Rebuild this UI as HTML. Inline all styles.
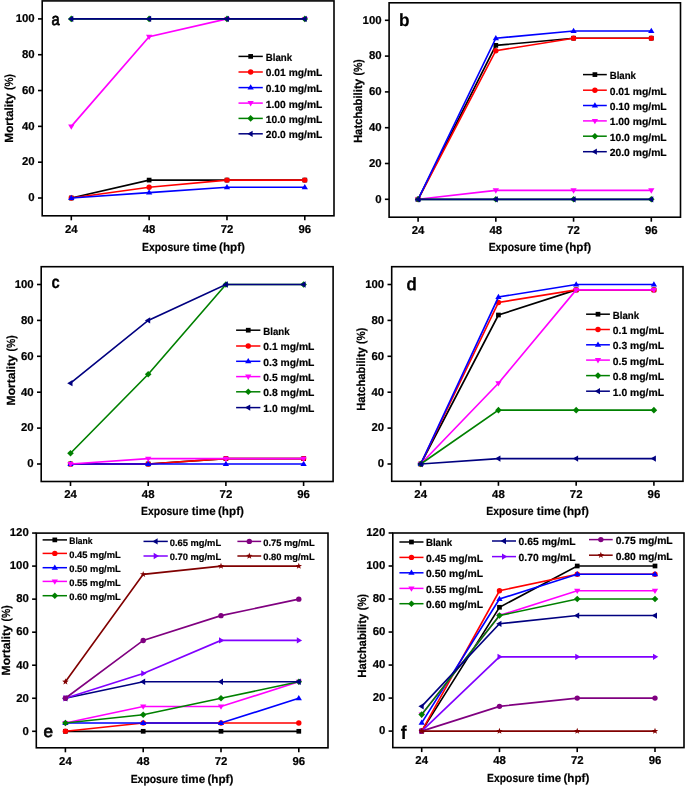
<!DOCTYPE html>
<html><head><meta charset="utf-8"><style>
html,body{margin:0;padding:0;background:#fff;}
svg{display:block;will-change:transform;}
text{font-family:"Liberation Sans", sans-serif;fill:#000;text-rendering:geometricPrecision;stroke:#000;stroke-width:0.2px;}
.rg{stroke-width:0.75px;}
</style></head><body>
<svg width="685" height="786" viewBox="0 0 685 786">
<rect width="685" height="786" fill="#fff"/>
<polyline points="71.30,198.00 149.13,180.09 226.97,180.09 304.80,180.09" fill="none" stroke="#000000" stroke-width="1.65" stroke-linejoin="miter"/>
<rect x="68.95" y="195.65" width="4.70" height="4.70" fill="#000000"/>
<rect x="146.78" y="177.74" width="4.70" height="4.70" fill="#000000"/>
<rect x="224.62" y="177.74" width="4.70" height="4.70" fill="#000000"/>
<rect x="302.45" y="177.74" width="4.70" height="4.70" fill="#000000"/>
<polyline points="71.30,198.00 149.13,187.25 226.97,180.09 304.80,180.09" fill="none" stroke="#ff0000" stroke-width="1.65" stroke-linejoin="miter"/>
<circle cx="71.30" cy="198.00" r="2.70" fill="#ff0000"/>
<circle cx="149.13" cy="187.25" r="2.70" fill="#ff0000"/>
<circle cx="226.97" cy="180.09" r="2.70" fill="#ff0000"/>
<circle cx="304.80" cy="180.09" r="2.70" fill="#ff0000"/>
<polyline points="71.30,198.00 149.13,192.63 226.97,187.25 304.80,187.25" fill="none" stroke="#0000ff" stroke-width="1.65" stroke-linejoin="miter"/>
<polygon points="71.30,194.70 74.44,199.98 68.16,199.98" fill="#0000ff"/>
<polygon points="149.13,189.33 152.27,194.61 146.00,194.61" fill="#0000ff"/>
<polygon points="226.97,183.95 230.10,189.23 223.83,189.23" fill="#0000ff"/>
<polygon points="304.80,183.95 307.94,189.23 301.67,189.23" fill="#0000ff"/>
<polyline points="71.30,126.36 149.13,36.81 226.97,18.90 304.80,18.90" fill="none" stroke="#ff00ff" stroke-width="1.65" stroke-linejoin="miter"/>
<polygon points="71.30,129.66 74.44,124.38 68.16,124.38" fill="#ff00ff"/>
<polygon points="149.13,40.11 152.27,34.83 146.00,34.83" fill="#ff00ff"/>
<polygon points="226.97,22.20 230.10,16.92 223.83,16.92" fill="#ff00ff"/>
<polygon points="304.80,22.20 307.94,16.92 301.67,16.92" fill="#ff00ff"/>
<polyline points="71.30,18.90 149.13,18.90 226.97,18.90 304.80,18.90" fill="none" stroke="#008000" stroke-width="1.65" stroke-linejoin="miter"/>
<polygon points="71.30,15.60 74.60,18.90 71.30,22.20 68.00,18.90" fill="#008000"/>
<polygon points="149.13,15.60 152.43,18.90 149.13,22.20 145.83,18.90" fill="#008000"/>
<polygon points="226.97,15.60 230.27,18.90 226.97,22.20 223.67,18.90" fill="#008000"/>
<polygon points="304.80,15.60 308.10,18.90 304.80,22.20 301.50,18.90" fill="#008000"/>
<polyline points="71.30,18.90 149.13,18.90 226.97,18.90 304.80,18.90" fill="none" stroke="#000080" stroke-width="1.65" stroke-linejoin="miter"/>
<polygon points="68.00,18.90 73.28,15.77 73.28,22.04" fill="#000080"/>
<polygon points="145.83,18.90 151.11,15.77 151.11,22.04" fill="#000080"/>
<polygon points="223.67,18.90 228.95,15.77 228.95,22.04" fill="#000080"/>
<polygon points="301.50,18.90 306.78,15.77 306.78,22.04" fill="#000080"/>
<rect x="42.20" y="0.90" width="291.80" height="214.90" fill="none" stroke="#000" stroke-width="1.6"/>
<line x1="71.30" y1="215.80" x2="71.30" y2="220.30" stroke="#000" stroke-width="1.6"/>
<text x="71.30" y="232.60" font-size="11.4" font-weight="bold" text-anchor="middle">24</text>
<line x1="149.13" y1="215.80" x2="149.13" y2="220.30" stroke="#000" stroke-width="1.6"/>
<text x="149.13" y="232.60" font-size="11.4" font-weight="bold" text-anchor="middle">48</text>
<line x1="226.97" y1="215.80" x2="226.97" y2="220.30" stroke="#000" stroke-width="1.6"/>
<text x="226.97" y="232.60" font-size="11.4" font-weight="bold" text-anchor="middle">72</text>
<line x1="304.80" y1="215.80" x2="304.80" y2="220.30" stroke="#000" stroke-width="1.6"/>
<text x="304.80" y="232.60" font-size="11.4" font-weight="bold" text-anchor="middle">96</text>
<line x1="38.00" y1="198.00" x2="42.20" y2="198.00" stroke="#000" stroke-width="1.6"/>
<text x="34.70" y="201.30" font-size="11.4" font-weight="bold" text-anchor="end">0</text>
<line x1="38.00" y1="162.18" x2="42.20" y2="162.18" stroke="#000" stroke-width="1.6"/>
<text x="34.70" y="165.48" font-size="11.4" font-weight="bold" text-anchor="end">20</text>
<line x1="38.00" y1="126.36" x2="42.20" y2="126.36" stroke="#000" stroke-width="1.6"/>
<text x="34.70" y="129.66" font-size="11.4" font-weight="bold" text-anchor="end">40</text>
<line x1="38.00" y1="90.54" x2="42.20" y2="90.54" stroke="#000" stroke-width="1.6"/>
<text x="34.70" y="93.84" font-size="11.4" font-weight="bold" text-anchor="end">60</text>
<line x1="38.00" y1="54.72" x2="42.20" y2="54.72" stroke="#000" stroke-width="1.6"/>
<text x="34.70" y="58.02" font-size="11.4" font-weight="bold" text-anchor="end">80</text>
<line x1="38.00" y1="18.90" x2="42.20" y2="18.90" stroke="#000" stroke-width="1.6"/>
<text x="34.70" y="22.20" font-size="11.4" font-weight="bold" text-anchor="end">100</text>
<text x="141.95" y="250.60" font-size="11.8" font-weight="bold" textLength="47.53" lengthAdjust="spacingAndGlyphs">Exposure</text>
<text x="192.71" y="250.60" font-size="11.8" font-weight="bold" textLength="23.98" lengthAdjust="spacingAndGlyphs">time</text>
<text x="219.02" y="250.60" font-size="11.8" font-weight="bold" textLength="26.01" lengthAdjust="spacingAndGlyphs">(hpf)</text>
<text transform="translate(13.40,141.90) rotate(-90)" x="-0.79" y="0" font-size="11.8" font-weight="bold" textLength="49.19" lengthAdjust="spacingAndGlyphs">Mortality</text>
<text transform="translate(13.40,141.90) rotate(-90)" x="51.95" y="0" font-size="11.8" font-weight="bold" textLength="15.87" lengthAdjust="spacingAndGlyphs">(%)</text>
<text class="rg" transform="translate(51.60,25.10) scale(0.86,1)" font-size="17.0" font-weight="normal">a</text>
<line x1="238.50" y1="56.40" x2="262.80" y2="56.40" stroke="#000000" stroke-width="1.5"/>
<rect x="248.30" y="54.05" width="4.70" height="4.70" fill="#000000"/>
<text x="265.80" y="60.80" font-size="10.3" font-weight="bold" textLength="26.30" lengthAdjust="spacingAndGlyphs">Blank</text>
<line x1="238.50" y1="72.00" x2="262.80" y2="72.00" stroke="#ff0000" stroke-width="1.5"/>
<circle cx="250.65" cy="72.00" r="2.70" fill="#ff0000"/>
<text x="265.80" y="76.40" font-size="10.3" font-weight="bold" textLength="56.50" lengthAdjust="spacingAndGlyphs">0.01 mg/mL</text>
<line x1="238.50" y1="87.60" x2="262.80" y2="87.60" stroke="#0000ff" stroke-width="1.5"/>
<polygon points="250.65,84.30 253.78,89.58 247.52,89.58" fill="#0000ff"/>
<text x="265.80" y="92.00" font-size="10.3" font-weight="bold" textLength="56.50" lengthAdjust="spacingAndGlyphs">0.10 mg/mL</text>
<line x1="238.50" y1="103.10" x2="262.80" y2="103.10" stroke="#ff00ff" stroke-width="1.5"/>
<polygon points="250.65,106.40 253.78,101.12 247.52,101.12" fill="#ff00ff"/>
<text x="265.80" y="107.50" font-size="10.3" font-weight="bold" textLength="56.50" lengthAdjust="spacingAndGlyphs">1.00 mg/mL</text>
<line x1="238.50" y1="118.40" x2="262.80" y2="118.40" stroke="#008000" stroke-width="1.5"/>
<polygon points="250.65,115.10 253.95,118.40 250.65,121.70 247.35,118.40" fill="#008000"/>
<text x="265.80" y="122.80" font-size="10.3" font-weight="bold" textLength="56.50" lengthAdjust="spacingAndGlyphs">10.0 mg/mL</text>
<line x1="238.50" y1="133.80" x2="262.80" y2="133.80" stroke="#000080" stroke-width="1.5"/>
<polygon points="247.35,133.80 252.63,130.67 252.63,136.94" fill="#000080"/>
<text x="265.80" y="138.20" font-size="10.3" font-weight="bold" textLength="56.50" lengthAdjust="spacingAndGlyphs">20.0 mg/mL</text>
<polyline points="418.10,199.30 495.83,45.36 573.57,38.20 651.30,38.20" fill="none" stroke="#000000" stroke-width="1.65" stroke-linejoin="miter"/>
<rect x="415.75" y="196.95" width="4.70" height="4.70" fill="#000000"/>
<rect x="493.48" y="43.01" width="4.70" height="4.70" fill="#000000"/>
<rect x="571.22" y="35.85" width="4.70" height="4.70" fill="#000000"/>
<rect x="648.95" y="35.85" width="4.70" height="4.70" fill="#000000"/>
<polyline points="418.10,199.30 495.83,50.73 573.57,38.20 651.30,38.20" fill="none" stroke="#ff0000" stroke-width="1.65" stroke-linejoin="miter"/>
<circle cx="418.10" cy="199.30" r="2.70" fill="#ff0000"/>
<circle cx="495.83" cy="50.73" r="2.70" fill="#ff0000"/>
<circle cx="573.57" cy="38.20" r="2.70" fill="#ff0000"/>
<circle cx="651.30" cy="38.20" r="2.70" fill="#ff0000"/>
<polyline points="418.10,199.30 495.83,38.20 573.57,31.04 651.30,31.04" fill="none" stroke="#0000ff" stroke-width="1.65" stroke-linejoin="miter"/>
<polygon points="418.10,196.00 421.24,201.28 414.97,201.28" fill="#0000ff"/>
<polygon points="495.83,34.90 498.97,40.18 492.70,40.18" fill="#0000ff"/>
<polygon points="573.57,27.74 576.70,33.02 570.43,33.02" fill="#0000ff"/>
<polygon points="651.30,27.74 654.43,33.02 648.16,33.02" fill="#0000ff"/>
<polyline points="418.10,199.30 495.83,190.35 573.57,190.35 651.30,190.35" fill="none" stroke="#ff00ff" stroke-width="1.65" stroke-linejoin="miter"/>
<polygon points="418.10,202.60 421.24,197.32 414.97,197.32" fill="#ff00ff"/>
<polygon points="495.83,193.65 498.97,188.37 492.70,188.37" fill="#ff00ff"/>
<polygon points="573.57,193.65 576.70,188.37 570.43,188.37" fill="#ff00ff"/>
<polygon points="651.30,193.65 654.43,188.37 648.16,188.37" fill="#ff00ff"/>
<polyline points="418.10,199.30 495.83,199.30 573.57,199.30 651.30,199.30" fill="none" stroke="#008000" stroke-width="1.65" stroke-linejoin="miter"/>
<polygon points="418.10,196.00 421.40,199.30 418.10,202.60 414.80,199.30" fill="#008000"/>
<polygon points="495.83,196.00 499.13,199.30 495.83,202.60 492.53,199.30" fill="#008000"/>
<polygon points="573.57,196.00 576.87,199.30 573.57,202.60 570.27,199.30" fill="#008000"/>
<polygon points="651.30,196.00 654.60,199.30 651.30,202.60 648.00,199.30" fill="#008000"/>
<polyline points="418.10,199.30 495.83,199.30 573.57,199.30 651.30,199.30" fill="none" stroke="#000080" stroke-width="1.65" stroke-linejoin="miter"/>
<polygon points="414.80,199.30 420.08,196.17 420.08,202.44" fill="#000080"/>
<polygon points="492.53,199.30 497.81,196.17 497.81,202.44" fill="#000080"/>
<polygon points="570.27,199.30 575.55,196.17 575.55,202.44" fill="#000080"/>
<polygon points="648.00,199.30 653.28,196.17 653.28,202.44" fill="#000080"/>
<rect x="389.10" y="2.80" width="291.40" height="214.40" fill="none" stroke="#000" stroke-width="1.6"/>
<line x1="418.10" y1="217.20" x2="418.10" y2="221.70" stroke="#000" stroke-width="1.6"/>
<text x="418.10" y="234.00" font-size="11.4" font-weight="bold" text-anchor="middle">24</text>
<line x1="495.83" y1="217.20" x2="495.83" y2="221.70" stroke="#000" stroke-width="1.6"/>
<text x="495.83" y="234.00" font-size="11.4" font-weight="bold" text-anchor="middle">48</text>
<line x1="573.57" y1="217.20" x2="573.57" y2="221.70" stroke="#000" stroke-width="1.6"/>
<text x="573.57" y="234.00" font-size="11.4" font-weight="bold" text-anchor="middle">72</text>
<line x1="651.30" y1="217.20" x2="651.30" y2="221.70" stroke="#000" stroke-width="1.6"/>
<text x="651.30" y="234.00" font-size="11.4" font-weight="bold" text-anchor="middle">96</text>
<line x1="384.90" y1="199.30" x2="389.10" y2="199.30" stroke="#000" stroke-width="1.6"/>
<text x="381.60" y="202.60" font-size="11.4" font-weight="bold" text-anchor="end">0</text>
<line x1="384.90" y1="163.50" x2="389.10" y2="163.50" stroke="#000" stroke-width="1.6"/>
<text x="381.60" y="166.80" font-size="11.4" font-weight="bold" text-anchor="end">20</text>
<line x1="384.90" y1="127.70" x2="389.10" y2="127.70" stroke="#000" stroke-width="1.6"/>
<text x="381.60" y="131.00" font-size="11.4" font-weight="bold" text-anchor="end">40</text>
<line x1="384.90" y1="91.90" x2="389.10" y2="91.90" stroke="#000" stroke-width="1.6"/>
<text x="381.60" y="95.20" font-size="11.4" font-weight="bold" text-anchor="end">60</text>
<line x1="384.90" y1="56.10" x2="389.10" y2="56.10" stroke="#000" stroke-width="1.6"/>
<text x="381.60" y="59.40" font-size="11.4" font-weight="bold" text-anchor="end">80</text>
<line x1="384.90" y1="20.30" x2="389.10" y2="20.30" stroke="#000" stroke-width="1.6"/>
<text x="381.60" y="23.60" font-size="11.4" font-weight="bold" text-anchor="end">100</text>
<text x="488.65" y="250.50" font-size="11.8" font-weight="bold" textLength="47.30" lengthAdjust="spacingAndGlyphs">Exposure</text>
<text x="539.16" y="250.50" font-size="11.8" font-weight="bold" textLength="23.86" lengthAdjust="spacingAndGlyphs">time</text>
<text x="565.34" y="250.50" font-size="11.8" font-weight="bold" textLength="25.89" lengthAdjust="spacingAndGlyphs">(hpf)</text>
<text transform="translate(361.80,142.30) rotate(-90)" x="-0.76" y="0" font-size="11.8" font-weight="bold" textLength="63.99" lengthAdjust="spacingAndGlyphs">Hatchability</text>
<text transform="translate(361.80,142.30) rotate(-90)" x="66.71" y="0" font-size="11.8" font-weight="bold" textLength="16.31" lengthAdjust="spacingAndGlyphs">(%)</text>
<text transform="translate(398.90,25.50) scale(0.98,1)" font-size="17.55" font-weight="bold">b</text>
<line x1="583.00" y1="74.60" x2="606.80" y2="74.60" stroke="#000000" stroke-width="1.5"/>
<rect x="592.55" y="72.25" width="4.70" height="4.70" fill="#000000"/>
<text x="609.70" y="79.00" font-size="10.3" font-weight="bold" textLength="26.30" lengthAdjust="spacingAndGlyphs">Blank</text>
<line x1="583.00" y1="90.20" x2="606.80" y2="90.20" stroke="#ff0000" stroke-width="1.5"/>
<circle cx="594.90" cy="90.20" r="2.70" fill="#ff0000"/>
<text x="609.70" y="94.60" font-size="10.3" font-weight="bold" textLength="57.00" lengthAdjust="spacingAndGlyphs">0.01 mg/mL</text>
<line x1="583.00" y1="105.50" x2="606.80" y2="105.50" stroke="#0000ff" stroke-width="1.5"/>
<polygon points="594.90,102.20 598.03,107.48 591.76,107.48" fill="#0000ff"/>
<text x="609.70" y="109.90" font-size="10.3" font-weight="bold" textLength="57.00" lengthAdjust="spacingAndGlyphs">0.10 mg/mL</text>
<line x1="583.00" y1="120.90" x2="606.80" y2="120.90" stroke="#ff00ff" stroke-width="1.5"/>
<polygon points="594.90,124.20 598.03,118.92 591.76,118.92" fill="#ff00ff"/>
<text x="609.70" y="125.30" font-size="10.3" font-weight="bold" textLength="57.00" lengthAdjust="spacingAndGlyphs">1.00 mg/mL</text>
<line x1="583.00" y1="136.20" x2="606.80" y2="136.20" stroke="#008000" stroke-width="1.5"/>
<polygon points="594.90,132.90 598.20,136.20 594.90,139.50 591.60,136.20" fill="#008000"/>
<text x="609.70" y="140.60" font-size="10.3" font-weight="bold" textLength="57.00" lengthAdjust="spacingAndGlyphs">10.0 mg/mL</text>
<line x1="583.00" y1="151.70" x2="606.80" y2="151.70" stroke="#000080" stroke-width="1.5"/>
<polygon points="591.60,151.70 596.88,148.56 596.88,154.83" fill="#000080"/>
<text x="609.70" y="156.10" font-size="10.3" font-weight="bold" textLength="57.00" lengthAdjust="spacingAndGlyphs">20.0 mg/mL</text>
<polyline points="70.50,464.00 148.20,464.00 225.90,458.62 303.60,458.62" fill="none" stroke="#000000" stroke-width="1.65" stroke-linejoin="miter"/>
<rect x="68.15" y="461.65" width="4.70" height="4.70" fill="#000000"/>
<rect x="145.85" y="461.65" width="4.70" height="4.70" fill="#000000"/>
<rect x="223.55" y="456.26" width="4.70" height="4.70" fill="#000000"/>
<rect x="301.25" y="456.26" width="4.70" height="4.70" fill="#000000"/>
<polyline points="70.50,464.00 148.20,464.00 225.90,458.62 303.60,458.62" fill="none" stroke="#ff0000" stroke-width="1.65" stroke-linejoin="miter"/>
<circle cx="70.50" cy="464.00" r="2.70" fill="#ff0000"/>
<circle cx="148.20" cy="464.00" r="2.70" fill="#ff0000"/>
<circle cx="225.90" cy="458.62" r="2.70" fill="#ff0000"/>
<circle cx="303.60" cy="458.62" r="2.70" fill="#ff0000"/>
<polyline points="70.50,464.00 148.20,464.00 225.90,464.00 303.60,464.00" fill="none" stroke="#0000ff" stroke-width="1.65" stroke-linejoin="miter"/>
<polygon points="70.50,460.70 73.64,465.98 67.36,465.98" fill="#0000ff"/>
<polygon points="148.20,460.70 151.33,465.98 145.06,465.98" fill="#0000ff"/>
<polygon points="225.90,460.70 229.03,465.98 222.77,465.98" fill="#0000ff"/>
<polygon points="303.60,460.70 306.74,465.98 300.47,465.98" fill="#0000ff"/>
<polyline points="70.50,464.00 148.20,458.62 225.90,458.62 303.60,458.62" fill="none" stroke="#ff00ff" stroke-width="1.65" stroke-linejoin="miter"/>
<polygon points="70.50,467.30 73.64,462.02 67.36,462.02" fill="#ff00ff"/>
<polygon points="148.20,461.92 151.33,456.63 145.06,456.63" fill="#ff00ff"/>
<polygon points="225.90,461.92 229.03,456.63 222.77,456.63" fill="#ff00ff"/>
<polygon points="303.60,461.92 306.74,456.63 300.47,456.63" fill="#ff00ff"/>
<polyline points="70.50,453.23 148.20,374.25 225.90,284.50 303.60,284.50" fill="none" stroke="#008000" stroke-width="1.65" stroke-linejoin="miter"/>
<polygon points="70.50,449.93 73.80,453.23 70.50,456.53 67.20,453.23" fill="#008000"/>
<polygon points="148.20,370.95 151.50,374.25 148.20,377.55 144.90,374.25" fill="#008000"/>
<polygon points="225.90,281.20 229.20,284.50 225.90,287.80 222.60,284.50" fill="#008000"/>
<polygon points="303.60,281.20 306.90,284.50 303.60,287.80 300.30,284.50" fill="#008000"/>
<polyline points="70.50,383.23 148.20,320.40 225.90,284.50 303.60,284.50" fill="none" stroke="#000080" stroke-width="1.65" stroke-linejoin="miter"/>
<polygon points="67.20,383.23 72.48,380.09 72.48,386.36" fill="#000080"/>
<polygon points="144.90,320.40 150.18,317.26 150.18,323.53" fill="#000080"/>
<polygon points="222.60,284.50 227.88,281.37 227.88,287.63" fill="#000080"/>
<polygon points="300.30,284.50 305.58,281.37 305.58,287.63" fill="#000080"/>
<rect x="41.20" y="266.70" width="291.90" height="214.80" fill="none" stroke="#000" stroke-width="1.6"/>
<line x1="70.50" y1="481.50" x2="70.50" y2="486.00" stroke="#000" stroke-width="1.6"/>
<text x="70.50" y="498.30" font-size="11.4" font-weight="bold" text-anchor="middle">24</text>
<line x1="148.20" y1="481.50" x2="148.20" y2="486.00" stroke="#000" stroke-width="1.6"/>
<text x="148.20" y="498.30" font-size="11.4" font-weight="bold" text-anchor="middle">48</text>
<line x1="225.90" y1="481.50" x2="225.90" y2="486.00" stroke="#000" stroke-width="1.6"/>
<text x="225.90" y="498.30" font-size="11.4" font-weight="bold" text-anchor="middle">72</text>
<line x1="303.60" y1="481.50" x2="303.60" y2="486.00" stroke="#000" stroke-width="1.6"/>
<text x="303.60" y="498.30" font-size="11.4" font-weight="bold" text-anchor="middle">96</text>
<line x1="37.00" y1="464.00" x2="41.20" y2="464.00" stroke="#000" stroke-width="1.6"/>
<text x="33.70" y="467.30" font-size="11.4" font-weight="bold" text-anchor="end">0</text>
<line x1="37.00" y1="428.10" x2="41.20" y2="428.10" stroke="#000" stroke-width="1.6"/>
<text x="33.70" y="431.40" font-size="11.4" font-weight="bold" text-anchor="end">20</text>
<line x1="37.00" y1="392.20" x2="41.20" y2="392.20" stroke="#000" stroke-width="1.6"/>
<text x="33.70" y="395.50" font-size="11.4" font-weight="bold" text-anchor="end">40</text>
<line x1="37.00" y1="356.30" x2="41.20" y2="356.30" stroke="#000" stroke-width="1.6"/>
<text x="33.70" y="359.60" font-size="11.4" font-weight="bold" text-anchor="end">60</text>
<line x1="37.00" y1="320.40" x2="41.20" y2="320.40" stroke="#000" stroke-width="1.6"/>
<text x="33.70" y="323.70" font-size="11.4" font-weight="bold" text-anchor="end">80</text>
<line x1="37.00" y1="284.50" x2="41.20" y2="284.50" stroke="#000" stroke-width="1.6"/>
<text x="33.70" y="287.80" font-size="11.4" font-weight="bold" text-anchor="end">100</text>
<text x="141.05" y="514.50" font-size="11.8" font-weight="bold" textLength="47.44" lengthAdjust="spacingAndGlyphs">Exposure</text>
<text x="191.71" y="514.50" font-size="11.8" font-weight="bold" textLength="23.93" lengthAdjust="spacingAndGlyphs">time</text>
<text x="217.97" y="514.50" font-size="11.8" font-weight="bold" textLength="25.96" lengthAdjust="spacingAndGlyphs">(hpf)</text>
<text transform="translate(15.30,404.60) rotate(-90)" x="-0.81" y="0" font-size="11.8" font-weight="bold" textLength="50.22" lengthAdjust="spacingAndGlyphs">Mortality</text>
<text transform="translate(15.30,404.60) rotate(-90)" x="53.03" y="0" font-size="11.8" font-weight="bold" textLength="16.20" lengthAdjust="spacingAndGlyphs">(%)</text>
<text transform="translate(51.40,287.90) scale(0.84,1)" font-size="17.6" font-weight="bold">c</text>
<line x1="236.10" y1="330.20" x2="260.40" y2="330.20" stroke="#000000" stroke-width="1.5"/>
<rect x="245.90" y="327.85" width="4.70" height="4.70" fill="#000000"/>
<text x="263.30" y="334.60" font-size="10.3" font-weight="bold" textLength="26.30" lengthAdjust="spacingAndGlyphs">Blank</text>
<line x1="236.10" y1="346.00" x2="260.40" y2="346.00" stroke="#ff0000" stroke-width="1.5"/>
<circle cx="248.25" cy="346.00" r="2.70" fill="#ff0000"/>
<text x="263.30" y="350.40" font-size="10.3" font-weight="bold" textLength="51.10" lengthAdjust="spacingAndGlyphs">0.1 mg/mL</text>
<line x1="236.10" y1="361.30" x2="260.40" y2="361.30" stroke="#0000ff" stroke-width="1.5"/>
<polygon points="248.25,358.00 251.38,363.28 245.12,363.28" fill="#0000ff"/>
<text x="263.30" y="365.70" font-size="10.3" font-weight="bold" textLength="51.10" lengthAdjust="spacingAndGlyphs">0.3 mg/mL</text>
<line x1="236.10" y1="376.60" x2="260.40" y2="376.60" stroke="#ff00ff" stroke-width="1.5"/>
<polygon points="248.25,379.90 251.38,374.62 245.12,374.62" fill="#ff00ff"/>
<text x="263.30" y="381.00" font-size="10.3" font-weight="bold" textLength="51.10" lengthAdjust="spacingAndGlyphs">0.5 mg/mL</text>
<line x1="236.10" y1="391.80" x2="260.40" y2="391.80" stroke="#008000" stroke-width="1.5"/>
<polygon points="248.25,388.50 251.55,391.80 248.25,395.10 244.95,391.80" fill="#008000"/>
<text x="263.30" y="396.20" font-size="10.3" font-weight="bold" textLength="51.10" lengthAdjust="spacingAndGlyphs">0.8 mg/mL</text>
<line x1="236.10" y1="407.60" x2="260.40" y2="407.60" stroke="#000080" stroke-width="1.5"/>
<polygon points="244.95,407.60 250.23,404.47 250.23,410.74" fill="#000080"/>
<text x="263.30" y="412.00" font-size="10.3" font-weight="bold" textLength="51.10" lengthAdjust="spacingAndGlyphs">1.0 mg/mL</text>
<polyline points="420.70,464.00 498.43,315.01 576.17,289.88 653.90,289.88" fill="none" stroke="#000000" stroke-width="1.65" stroke-linejoin="miter"/>
<rect x="418.35" y="461.65" width="4.70" height="4.70" fill="#000000"/>
<rect x="496.08" y="312.66" width="4.70" height="4.70" fill="#000000"/>
<rect x="573.82" y="287.53" width="4.70" height="4.70" fill="#000000"/>
<rect x="651.55" y="287.53" width="4.70" height="4.70" fill="#000000"/>
<polyline points="420.70,464.00 498.43,302.45 576.17,289.88 653.90,289.88" fill="none" stroke="#ff0000" stroke-width="1.65" stroke-linejoin="miter"/>
<circle cx="420.70" cy="464.00" r="2.70" fill="#ff0000"/>
<circle cx="498.43" cy="302.45" r="2.70" fill="#ff0000"/>
<circle cx="576.17" cy="289.88" r="2.70" fill="#ff0000"/>
<circle cx="653.90" cy="289.88" r="2.70" fill="#ff0000"/>
<polyline points="420.70,464.00 498.43,297.06 576.17,284.50 653.90,284.50" fill="none" stroke="#0000ff" stroke-width="1.65" stroke-linejoin="miter"/>
<polygon points="420.70,460.70 423.83,465.98 417.56,465.98" fill="#0000ff"/>
<polygon points="498.43,293.76 501.57,299.05 495.30,299.05" fill="#0000ff"/>
<polygon points="576.17,281.20 579.30,286.48 573.03,286.48" fill="#0000ff"/>
<polygon points="653.90,281.20 657.03,286.48 650.76,286.48" fill="#0000ff"/>
<polyline points="420.70,464.00 498.43,383.23 576.17,289.88 653.90,289.88" fill="none" stroke="#ff00ff" stroke-width="1.65" stroke-linejoin="miter"/>
<polygon points="420.70,467.30 423.83,462.02 417.56,462.02" fill="#ff00ff"/>
<polygon points="498.43,386.53 501.57,381.25 495.30,381.25" fill="#ff00ff"/>
<polygon points="576.17,293.19 579.30,287.90 573.03,287.90" fill="#ff00ff"/>
<polygon points="653.90,293.19 657.03,287.90 650.76,287.90" fill="#ff00ff"/>
<polyline points="420.70,464.00 498.43,410.15 576.17,410.15 653.90,410.15" fill="none" stroke="#008000" stroke-width="1.65" stroke-linejoin="miter"/>
<polygon points="420.70,460.70 424.00,464.00 420.70,467.30 417.40,464.00" fill="#008000"/>
<polygon points="498.43,406.85 501.73,410.15 498.43,413.45 495.13,410.15" fill="#008000"/>
<polygon points="576.17,406.85 579.47,410.15 576.17,413.45 572.87,410.15" fill="#008000"/>
<polygon points="653.90,406.85 657.20,410.15 653.90,413.45 650.60,410.15" fill="#008000"/>
<polyline points="420.70,464.00 498.43,458.62 576.17,458.62 653.90,458.62" fill="none" stroke="#000080" stroke-width="1.65" stroke-linejoin="miter"/>
<polygon points="417.40,464.00 422.68,460.87 422.68,467.13" fill="#000080"/>
<polygon points="495.13,458.62 500.41,455.48 500.41,461.75" fill="#000080"/>
<polygon points="572.87,458.62 578.15,455.48 578.15,461.75" fill="#000080"/>
<polygon points="650.60,458.62 655.88,455.48 655.88,461.75" fill="#000080"/>
<rect x="391.70" y="266.70" width="291.30" height="214.60" fill="none" stroke="#000" stroke-width="1.6"/>
<line x1="420.70" y1="481.30" x2="420.70" y2="485.80" stroke="#000" stroke-width="1.6"/>
<text x="420.70" y="498.10" font-size="11.4" font-weight="bold" text-anchor="middle">24</text>
<line x1="498.43" y1="481.30" x2="498.43" y2="485.80" stroke="#000" stroke-width="1.6"/>
<text x="498.43" y="498.10" font-size="11.4" font-weight="bold" text-anchor="middle">48</text>
<line x1="576.17" y1="481.30" x2="576.17" y2="485.80" stroke="#000" stroke-width="1.6"/>
<text x="576.17" y="498.10" font-size="11.4" font-weight="bold" text-anchor="middle">72</text>
<line x1="653.90" y1="481.30" x2="653.90" y2="485.80" stroke="#000" stroke-width="1.6"/>
<text x="653.90" y="498.10" font-size="11.4" font-weight="bold" text-anchor="middle">96</text>
<line x1="387.50" y1="464.00" x2="391.70" y2="464.00" stroke="#000" stroke-width="1.6"/>
<text x="384.20" y="467.30" font-size="11.4" font-weight="bold" text-anchor="end">0</text>
<line x1="387.50" y1="428.10" x2="391.70" y2="428.10" stroke="#000" stroke-width="1.6"/>
<text x="384.20" y="431.40" font-size="11.4" font-weight="bold" text-anchor="end">20</text>
<line x1="387.50" y1="392.20" x2="391.70" y2="392.20" stroke="#000" stroke-width="1.6"/>
<text x="384.20" y="395.50" font-size="11.4" font-weight="bold" text-anchor="end">40</text>
<line x1="387.50" y1="356.30" x2="391.70" y2="356.30" stroke="#000" stroke-width="1.6"/>
<text x="384.20" y="359.60" font-size="11.4" font-weight="bold" text-anchor="end">60</text>
<line x1="387.50" y1="320.40" x2="391.70" y2="320.40" stroke="#000" stroke-width="1.6"/>
<text x="384.20" y="323.70" font-size="11.4" font-weight="bold" text-anchor="end">80</text>
<line x1="387.50" y1="284.50" x2="391.70" y2="284.50" stroke="#000" stroke-width="1.6"/>
<text x="384.20" y="287.80" font-size="11.4" font-weight="bold" text-anchor="end">100</text>
<text x="486.25" y="515.30" font-size="11.8" font-weight="bold" textLength="47.34" lengthAdjust="spacingAndGlyphs">Exposure</text>
<text x="536.81" y="515.30" font-size="11.8" font-weight="bold" textLength="23.88" lengthAdjust="spacingAndGlyphs">time</text>
<text x="563.02" y="515.30" font-size="11.8" font-weight="bold" textLength="25.91" lengthAdjust="spacingAndGlyphs">(hpf)</text>
<text transform="translate(364.80,410.00) rotate(-90)" x="-0.75" y="0" font-size="11.8" font-weight="bold" textLength="63.37" lengthAdjust="spacingAndGlyphs">Hatchability</text>
<text transform="translate(364.80,410.00) rotate(-90)" x="66.07" y="0" font-size="11.8" font-weight="bold" textLength="16.16" lengthAdjust="spacingAndGlyphs">(%)</text>
<text class="rg" transform="translate(406.80,290.10) scale(1.0,1)" font-size="17.4" font-weight="normal">d</text>
<line x1="586.10" y1="314.20" x2="609.90" y2="314.20" stroke="#000000" stroke-width="1.5"/>
<rect x="595.65" y="311.85" width="4.70" height="4.70" fill="#000000"/>
<text x="612.80" y="318.60" font-size="10.3" font-weight="bold" textLength="26.30" lengthAdjust="spacingAndGlyphs">Blank</text>
<line x1="586.10" y1="329.50" x2="609.90" y2="329.50" stroke="#ff0000" stroke-width="1.5"/>
<circle cx="598.00" cy="329.50" r="2.70" fill="#ff0000"/>
<text x="612.80" y="333.90" font-size="10.3" font-weight="bold" textLength="51.20" lengthAdjust="spacingAndGlyphs">0.1 mg/mL</text>
<line x1="586.10" y1="344.80" x2="609.90" y2="344.80" stroke="#0000ff" stroke-width="1.5"/>
<polygon points="598.00,341.50 601.13,346.78 594.87,346.78" fill="#0000ff"/>
<text x="612.80" y="349.20" font-size="10.3" font-weight="bold" textLength="51.20" lengthAdjust="spacingAndGlyphs">0.3 mg/mL</text>
<line x1="586.10" y1="360.10" x2="609.90" y2="360.10" stroke="#ff00ff" stroke-width="1.5"/>
<polygon points="598.00,363.40 601.13,358.12 594.87,358.12" fill="#ff00ff"/>
<text x="612.80" y="364.50" font-size="10.3" font-weight="bold" textLength="51.20" lengthAdjust="spacingAndGlyphs">0.5 mg/mL</text>
<line x1="586.10" y1="375.60" x2="609.90" y2="375.60" stroke="#008000" stroke-width="1.5"/>
<polygon points="598.00,372.30 601.30,375.60 598.00,378.90 594.70,375.60" fill="#008000"/>
<text x="612.80" y="380.00" font-size="10.3" font-weight="bold" textLength="51.20" lengthAdjust="spacingAndGlyphs">0.8 mg/mL</text>
<line x1="586.10" y1="391.20" x2="609.90" y2="391.20" stroke="#000080" stroke-width="1.5"/>
<polygon points="594.70,391.20 599.98,388.06 599.98,394.33" fill="#000080"/>
<text x="612.80" y="395.60" font-size="10.3" font-weight="bold" textLength="51.20" lengthAdjust="spacingAndGlyphs">1.0 mg/mL</text>
<polyline points="65.40,731.30 143.20,731.30 221.00,731.30 298.80,731.30" fill="none" stroke="#000000" stroke-width="1.65" stroke-linejoin="miter"/>
<rect x="63.05" y="728.95" width="4.70" height="4.70" fill="#000000"/>
<rect x="140.85" y="728.95" width="4.70" height="4.70" fill="#000000"/>
<rect x="218.65" y="728.95" width="4.70" height="4.70" fill="#000000"/>
<rect x="296.45" y="728.95" width="4.70" height="4.70" fill="#000000"/>
<polyline points="65.40,731.30 143.20,723.04 221.00,723.04 298.80,723.04" fill="none" stroke="#ff0000" stroke-width="1.65" stroke-linejoin="miter"/>
<circle cx="65.40" cy="731.30" r="2.70" fill="#ff0000"/>
<circle cx="143.20" cy="723.04" r="2.70" fill="#ff0000"/>
<circle cx="221.00" cy="723.04" r="2.70" fill="#ff0000"/>
<circle cx="298.80" cy="723.04" r="2.70" fill="#ff0000"/>
<polyline points="65.40,723.04 143.20,723.04 221.00,723.04 298.80,698.26" fill="none" stroke="#0000ff" stroke-width="1.65" stroke-linejoin="miter"/>
<polygon points="65.40,719.74 68.54,725.02 62.27,725.02" fill="#0000ff"/>
<polygon points="143.20,719.74 146.34,725.02 140.07,725.02" fill="#0000ff"/>
<polygon points="221.00,719.74 224.14,725.02 217.87,725.02" fill="#0000ff"/>
<polygon points="298.80,694.96 301.93,700.24 295.66,700.24" fill="#0000ff"/>
<polyline points="65.40,723.04 143.20,706.52 221.00,706.52 298.80,681.74" fill="none" stroke="#ff00ff" stroke-width="1.65" stroke-linejoin="miter"/>
<polygon points="65.40,726.34 68.54,721.06 62.27,721.06" fill="#ff00ff"/>
<polygon points="143.20,709.82 146.34,704.54 140.07,704.54" fill="#ff00ff"/>
<polygon points="221.00,709.82 224.14,704.54 217.87,704.54" fill="#ff00ff"/>
<polygon points="298.80,685.04 301.93,679.76 295.66,679.76" fill="#ff00ff"/>
<polyline points="65.40,723.04 143.20,714.78 221.00,698.26 298.80,681.74" fill="none" stroke="#008000" stroke-width="1.65" stroke-linejoin="miter"/>
<polygon points="65.40,719.74 68.70,723.04 65.40,726.34 62.10,723.04" fill="#008000"/>
<polygon points="143.20,711.48 146.50,714.78 143.20,718.08 139.90,714.78" fill="#008000"/>
<polygon points="221.00,694.96 224.30,698.26 221.00,701.56 217.70,698.26" fill="#008000"/>
<polygon points="298.80,678.44 302.10,681.74 298.80,685.04 295.50,681.74" fill="#008000"/>
<polyline points="65.40,698.26 143.20,681.74 221.00,681.74 298.80,681.74" fill="none" stroke="#000080" stroke-width="1.65" stroke-linejoin="miter"/>
<polygon points="62.10,698.26 67.38,695.12 67.38,701.39" fill="#000080"/>
<polygon points="139.90,681.74 145.18,678.61 145.18,684.88" fill="#000080"/>
<polygon points="217.70,681.74 222.98,678.61 222.98,684.88" fill="#000080"/>
<polygon points="295.50,681.74 300.78,678.61 300.78,684.88" fill="#000080"/>
<polyline points="65.40,698.26 143.20,673.48 221.00,640.44 298.80,640.44" fill="none" stroke="#8000ff" stroke-width="1.65" stroke-linejoin="miter"/>
<polygon points="68.70,698.26 63.42,695.12 63.42,701.39" fill="#8000ff"/>
<polygon points="146.50,673.48 141.22,670.34 141.22,676.61" fill="#8000ff"/>
<polygon points="224.30,640.44 219.02,637.30 219.02,643.57" fill="#8000ff"/>
<polygon points="302.10,640.44 296.82,637.30 296.82,643.57" fill="#8000ff"/>
<polyline points="65.40,698.26 143.20,640.44 221.00,615.66 298.80,599.14" fill="none" stroke="#800080" stroke-width="1.65" stroke-linejoin="miter"/>
<circle cx="65.40" cy="698.26" r="2.70" fill="#800080"/>
<circle cx="143.20" cy="640.44" r="2.70" fill="#800080"/>
<circle cx="221.00" cy="615.66" r="2.70" fill="#800080"/>
<circle cx="298.80" cy="599.14" r="2.70" fill="#800080"/>
<polyline points="65.40,681.74 143.20,574.36 221.00,566.10 298.80,566.10" fill="none" stroke="#800000" stroke-width="1.65" stroke-linejoin="miter"/>
<polygon points="65.40,678.34 66.22,680.61 68.63,680.69 66.73,682.17 67.40,684.49 65.40,683.14 63.40,684.49 64.07,682.17 62.17,680.69 64.58,680.61" fill="#800000"/>
<polygon points="143.20,570.96 144.02,573.23 146.43,573.31 144.53,574.79 145.20,577.11 143.20,575.76 141.20,577.11 141.87,574.79 139.97,573.31 142.38,573.23" fill="#800000"/>
<polygon points="221.00,562.70 221.82,564.97 224.23,565.05 222.33,566.53 223.00,568.85 221.00,567.50 219.00,568.85 219.67,566.53 217.77,565.05 220.18,564.97" fill="#800000"/>
<polygon points="298.80,562.70 299.62,564.97 302.03,565.05 300.13,566.53 300.80,568.85 298.80,567.50 296.80,568.85 297.47,566.53 295.57,565.05 297.98,564.97" fill="#800000"/>
<rect x="36.30" y="533.10" width="291.70" height="214.70" fill="none" stroke="#000" stroke-width="1.6"/>
<line x1="65.40" y1="747.80" x2="65.40" y2="752.30" stroke="#000" stroke-width="1.6"/>
<text x="65.40" y="764.60" font-size="11.4" font-weight="bold" text-anchor="middle">24</text>
<line x1="143.20" y1="747.80" x2="143.20" y2="752.30" stroke="#000" stroke-width="1.6"/>
<text x="143.20" y="764.60" font-size="11.4" font-weight="bold" text-anchor="middle">48</text>
<line x1="221.00" y1="747.80" x2="221.00" y2="752.30" stroke="#000" stroke-width="1.6"/>
<text x="221.00" y="764.60" font-size="11.4" font-weight="bold" text-anchor="middle">72</text>
<line x1="298.80" y1="747.80" x2="298.80" y2="752.30" stroke="#000" stroke-width="1.6"/>
<text x="298.80" y="764.60" font-size="11.4" font-weight="bold" text-anchor="middle">96</text>
<line x1="32.10" y1="731.30" x2="36.30" y2="731.30" stroke="#000" stroke-width="1.6"/>
<text x="28.80" y="734.60" font-size="11.4" font-weight="bold" text-anchor="end">0</text>
<line x1="32.10" y1="698.26" x2="36.30" y2="698.26" stroke="#000" stroke-width="1.6"/>
<text x="28.80" y="701.56" font-size="11.4" font-weight="bold" text-anchor="end">20</text>
<line x1="32.10" y1="665.22" x2="36.30" y2="665.22" stroke="#000" stroke-width="1.6"/>
<text x="28.80" y="668.52" font-size="11.4" font-weight="bold" text-anchor="end">40</text>
<line x1="32.10" y1="632.18" x2="36.30" y2="632.18" stroke="#000" stroke-width="1.6"/>
<text x="28.80" y="635.48" font-size="11.4" font-weight="bold" text-anchor="end">60</text>
<line x1="32.10" y1="599.14" x2="36.30" y2="599.14" stroke="#000" stroke-width="1.6"/>
<text x="28.80" y="602.44" font-size="11.4" font-weight="bold" text-anchor="end">80</text>
<line x1="32.10" y1="566.10" x2="36.30" y2="566.10" stroke="#000" stroke-width="1.6"/>
<text x="28.80" y="569.40" font-size="11.4" font-weight="bold" text-anchor="end">100</text>
<line x1="32.10" y1="533.06" x2="36.30" y2="533.06" stroke="#000" stroke-width="1.6"/>
<text x="28.80" y="536.36" font-size="11.4" font-weight="bold" text-anchor="end">120</text>
<text x="130.70" y="783.30" font-size="11.8" font-weight="bold" textLength="47.34" lengthAdjust="spacingAndGlyphs">Exposure</text>
<text x="181.26" y="783.30" font-size="11.8" font-weight="bold" textLength="23.88" lengthAdjust="spacingAndGlyphs">time</text>
<text x="207.47" y="783.30" font-size="11.8" font-weight="bold" textLength="25.91" lengthAdjust="spacingAndGlyphs">(hpf)</text>
<text transform="translate(9.50,674.60) rotate(-90)" x="-0.81" y="0" font-size="11.8" font-weight="bold" textLength="50.22" lengthAdjust="spacingAndGlyphs">Mortality</text>
<text transform="translate(9.50,674.60) rotate(-90)" x="53.03" y="0" font-size="11.8" font-weight="bold" textLength="16.20" lengthAdjust="spacingAndGlyphs">(%)</text>
<text class="rg" transform="translate(43.40,737.00) scale(1.0,1)" font-size="17.1" font-weight="normal">e</text>
<line x1="42.60" y1="539.90" x2="67.00" y2="539.90" stroke="#000000" stroke-width="1.5"/>
<rect x="52.45" y="537.55" width="4.70" height="4.70" fill="#000000"/>
<text x="69.30" y="544.30" font-size="9.3" font-weight="bold" textLength="23.10" lengthAdjust="spacingAndGlyphs">Blank</text>
<line x1="42.60" y1="553.40" x2="67.00" y2="553.40" stroke="#ff0000" stroke-width="1.5"/>
<circle cx="54.80" cy="553.40" r="2.70" fill="#ff0000"/>
<text x="69.30" y="557.80" font-size="9.3" font-weight="bold" textLength="51.40" lengthAdjust="spacingAndGlyphs">0.45 mg/mL</text>
<line x1="42.60" y1="567.70" x2="67.00" y2="567.70" stroke="#0000ff" stroke-width="1.5"/>
<polygon points="54.80,564.40 57.93,569.68 51.66,569.68" fill="#0000ff"/>
<text x="69.30" y="572.10" font-size="9.3" font-weight="bold" textLength="51.40" lengthAdjust="spacingAndGlyphs">0.50 mg/mL</text>
<line x1="42.60" y1="581.40" x2="67.00" y2="581.40" stroke="#ff00ff" stroke-width="1.5"/>
<polygon points="54.80,584.70 57.93,579.42 51.66,579.42" fill="#ff00ff"/>
<text x="69.30" y="585.80" font-size="9.3" font-weight="bold" textLength="51.40" lengthAdjust="spacingAndGlyphs">0.55 mg/mL</text>
<line x1="42.60" y1="595.70" x2="67.00" y2="595.70" stroke="#008000" stroke-width="1.5"/>
<polygon points="54.80,592.40 58.10,595.70 54.80,599.00 51.50,595.70" fill="#008000"/>
<text x="69.30" y="600.10" font-size="9.3" font-weight="bold" textLength="51.40" lengthAdjust="spacingAndGlyphs">0.60 mg/mL</text>
<line x1="143.50" y1="541.40" x2="167.80" y2="541.40" stroke="#000080" stroke-width="1.5"/>
<polygon points="152.35,541.40 157.63,538.26 157.63,544.53" fill="#000080"/>
<text x="169.70" y="545.80" font-size="9.3" font-weight="bold" textLength="51.40" lengthAdjust="spacingAndGlyphs">0.65 mg/mL</text>
<line x1="143.50" y1="556.00" x2="167.80" y2="556.00" stroke="#8000ff" stroke-width="1.5"/>
<polygon points="158.95,556.00 153.67,552.87 153.67,559.13" fill="#8000ff"/>
<text x="169.70" y="560.40" font-size="9.3" font-weight="bold" textLength="51.40" lengthAdjust="spacingAndGlyphs">0.70 mg/mL</text>
<line x1="237.40" y1="541.40" x2="261.20" y2="541.40" stroke="#800080" stroke-width="1.5"/>
<circle cx="249.30" cy="541.40" r="2.70" fill="#800080"/>
<text x="263.20" y="545.80" font-size="9.3" font-weight="bold" textLength="51.40" lengthAdjust="spacingAndGlyphs">0.75 mg/mL</text>
<line x1="237.40" y1="556.00" x2="261.20" y2="556.00" stroke="#800000" stroke-width="1.5"/>
<polygon points="249.30,552.60 250.12,554.87 252.53,554.95 250.63,556.43 251.30,558.75 249.30,557.40 247.30,558.75 247.97,556.43 246.07,554.95 248.48,554.87" fill="#800000"/>
<text x="263.20" y="560.40" font-size="9.3" font-weight="bold" textLength="51.40" lengthAdjust="spacingAndGlyphs">0.80 mg/mL</text>
<polyline points="421.70,731.10 499.47,607.27 577.23,566.00 655.00,566.00" fill="none" stroke="#000000" stroke-width="1.65" stroke-linejoin="miter"/>
<rect x="419.35" y="728.75" width="4.70" height="4.70" fill="#000000"/>
<rect x="497.12" y="604.92" width="4.70" height="4.70" fill="#000000"/>
<rect x="574.88" y="563.65" width="4.70" height="4.70" fill="#000000"/>
<rect x="652.65" y="563.65" width="4.70" height="4.70" fill="#000000"/>
<polyline points="421.70,731.10 499.47,590.76 577.23,574.25 655.00,574.25" fill="none" stroke="#ff0000" stroke-width="1.65" stroke-linejoin="miter"/>
<circle cx="421.70" cy="731.10" r="2.70" fill="#ff0000"/>
<circle cx="499.47" cy="590.76" r="2.70" fill="#ff0000"/>
<circle cx="577.23" cy="574.25" r="2.70" fill="#ff0000"/>
<circle cx="655.00" cy="574.25" r="2.70" fill="#ff0000"/>
<polyline points="421.70,722.85 499.47,599.02 577.23,574.25 655.00,574.25" fill="none" stroke="#0000ff" stroke-width="1.65" stroke-linejoin="miter"/>
<polygon points="421.70,719.55 424.83,724.83 418.56,724.83" fill="#0000ff"/>
<polygon points="499.47,595.72 502.60,601.00 496.33,601.00" fill="#0000ff"/>
<polygon points="577.23,570.96 580.37,576.24 574.10,576.24" fill="#0000ff"/>
<polygon points="655.00,570.96 658.13,576.24 651.87,576.24" fill="#0000ff"/>
<polyline points="421.70,714.59 499.47,615.53 577.23,590.76 655.00,590.76" fill="none" stroke="#ff00ff" stroke-width="1.65" stroke-linejoin="miter"/>
<polygon points="421.70,717.89 424.83,712.61 418.56,712.61" fill="#ff00ff"/>
<polygon points="499.47,618.83 502.60,613.55 496.33,613.55" fill="#ff00ff"/>
<polygon points="577.23,594.06 580.37,588.78 574.10,588.78" fill="#ff00ff"/>
<polygon points="655.00,594.06 658.13,588.78 651.87,588.78" fill="#ff00ff"/>
<polyline points="421.70,714.59 499.47,615.53 577.23,599.02 655.00,599.02" fill="none" stroke="#008000" stroke-width="1.65" stroke-linejoin="miter"/>
<polygon points="421.70,711.29 425.00,714.59 421.70,717.89 418.40,714.59" fill="#008000"/>
<polygon points="499.47,612.23 502.77,615.53 499.47,618.83 496.17,615.53" fill="#008000"/>
<polygon points="577.23,595.72 580.53,599.02 577.23,602.32 573.93,599.02" fill="#008000"/>
<polygon points="655.00,595.72 658.30,599.02 655.00,602.32 651.70,599.02" fill="#008000"/>
<polyline points="421.70,706.34 499.47,623.79 577.23,615.53 655.00,615.53" fill="none" stroke="#000080" stroke-width="1.65" stroke-linejoin="miter"/>
<polygon points="418.40,706.34 423.68,703.20 423.68,709.47" fill="#000080"/>
<polygon points="496.17,623.79 501.45,620.65 501.45,626.92" fill="#000080"/>
<polygon points="573.93,615.53 579.21,612.39 579.21,618.66" fill="#000080"/>
<polygon points="651.70,615.53 656.98,612.39 656.98,618.66" fill="#000080"/>
<polyline points="421.70,731.10 499.47,656.81 577.23,656.81 655.00,656.81" fill="none" stroke="#8000ff" stroke-width="1.65" stroke-linejoin="miter"/>
<polygon points="425.00,731.10 419.72,727.97 419.72,734.24" fill="#8000ff"/>
<polygon points="502.77,656.81 497.49,653.67 497.49,659.94" fill="#8000ff"/>
<polygon points="580.53,656.81 575.25,653.67 575.25,659.94" fill="#8000ff"/>
<polygon points="658.30,656.81 653.02,653.67 653.02,659.94" fill="#8000ff"/>
<polyline points="421.70,731.10 499.47,706.34 577.23,698.08 655.00,698.08" fill="none" stroke="#800080" stroke-width="1.65" stroke-linejoin="miter"/>
<circle cx="421.70" cy="731.10" r="2.70" fill="#800080"/>
<circle cx="499.47" cy="706.34" r="2.70" fill="#800080"/>
<circle cx="577.23" cy="698.08" r="2.70" fill="#800080"/>
<circle cx="655.00" cy="698.08" r="2.70" fill="#800080"/>
<polyline points="421.70,731.10 499.47,731.10 577.23,731.10 655.00,731.10" fill="none" stroke="#800000" stroke-width="1.65" stroke-linejoin="miter"/>
<polygon points="421.70,727.70 422.52,729.97 424.93,730.05 423.03,731.53 423.70,733.85 421.70,732.50 419.70,733.85 420.37,731.53 418.47,730.05 420.88,729.97" fill="#800000"/>
<polygon points="499.47,727.70 500.29,729.97 502.70,730.05 500.80,731.53 501.47,733.85 499.47,732.50 497.47,733.85 498.14,731.53 496.23,730.05 498.64,729.97" fill="#800000"/>
<polygon points="577.23,727.70 578.06,729.97 580.47,730.05 578.56,731.53 579.23,733.85 577.23,732.50 575.23,733.85 575.90,731.53 574.00,730.05 576.41,729.97" fill="#800000"/>
<polygon points="655.00,727.70 655.82,729.97 658.23,730.05 656.33,731.53 657.00,733.85 655.00,732.50 653.00,733.85 653.67,731.53 651.77,730.05 654.18,729.97" fill="#800000"/>
<rect x="392.80" y="533.00" width="291.20" height="214.60" fill="none" stroke="#000" stroke-width="1.6"/>
<line x1="421.70" y1="747.60" x2="421.70" y2="752.10" stroke="#000" stroke-width="1.6"/>
<text x="421.70" y="764.40" font-size="11.4" font-weight="bold" text-anchor="middle">24</text>
<line x1="499.47" y1="747.60" x2="499.47" y2="752.10" stroke="#000" stroke-width="1.6"/>
<text x="499.47" y="764.40" font-size="11.4" font-weight="bold" text-anchor="middle">48</text>
<line x1="577.23" y1="747.60" x2="577.23" y2="752.10" stroke="#000" stroke-width="1.6"/>
<text x="577.23" y="764.40" font-size="11.4" font-weight="bold" text-anchor="middle">72</text>
<line x1="655.00" y1="747.60" x2="655.00" y2="752.10" stroke="#000" stroke-width="1.6"/>
<text x="655.00" y="764.40" font-size="11.4" font-weight="bold" text-anchor="middle">96</text>
<line x1="388.60" y1="731.10" x2="392.80" y2="731.10" stroke="#000" stroke-width="1.6"/>
<text x="385.30" y="734.40" font-size="11.4" font-weight="bold" text-anchor="end">0</text>
<line x1="388.60" y1="698.08" x2="392.80" y2="698.08" stroke="#000" stroke-width="1.6"/>
<text x="385.30" y="701.38" font-size="11.4" font-weight="bold" text-anchor="end">20</text>
<line x1="388.60" y1="665.06" x2="392.80" y2="665.06" stroke="#000" stroke-width="1.6"/>
<text x="385.30" y="668.36" font-size="11.4" font-weight="bold" text-anchor="end">40</text>
<line x1="388.60" y1="632.04" x2="392.80" y2="632.04" stroke="#000" stroke-width="1.6"/>
<text x="385.30" y="635.34" font-size="11.4" font-weight="bold" text-anchor="end">60</text>
<line x1="388.60" y1="599.02" x2="392.80" y2="599.02" stroke="#000" stroke-width="1.6"/>
<text x="385.30" y="602.32" font-size="11.4" font-weight="bold" text-anchor="end">80</text>
<line x1="388.60" y1="566.00" x2="392.80" y2="566.00" stroke="#000" stroke-width="1.6"/>
<text x="385.30" y="569.30" font-size="11.4" font-weight="bold" text-anchor="end">100</text>
<line x1="388.60" y1="532.98" x2="392.80" y2="532.98" stroke="#000" stroke-width="1.6"/>
<text x="385.30" y="536.28" font-size="11.4" font-weight="bold" text-anchor="end">120</text>
<text x="487.11" y="782.40" font-size="11.8" font-weight="bold" textLength="47.11" lengthAdjust="spacingAndGlyphs">Exposure</text>
<text x="537.41" y="782.40" font-size="11.8" font-weight="bold" textLength="23.76" lengthAdjust="spacingAndGlyphs">time</text>
<text x="563.49" y="782.40" font-size="11.8" font-weight="bold" textLength="25.78" lengthAdjust="spacingAndGlyphs">(hpf)</text>
<text transform="translate(366.40,677.00) rotate(-90)" x="-0.76" y="0" font-size="11.8" font-weight="bold" textLength="63.99" lengthAdjust="spacingAndGlyphs">Hatchability</text>
<text transform="translate(366.40,677.00) rotate(-90)" x="66.71" y="0" font-size="11.8" font-weight="bold" textLength="16.31" lengthAdjust="spacingAndGlyphs">(%)</text>
<text transform="translate(400.70,738.50) scale(0.93,1)" font-size="19.0" font-weight="bold">f</text>
<line x1="399.40" y1="542.00" x2="423.50" y2="542.00" stroke="#000000" stroke-width="1.5"/>
<rect x="409.10" y="539.65" width="4.70" height="4.70" fill="#000000"/>
<text x="426.00" y="546.40" font-size="10.3" font-weight="bold" textLength="26.20" lengthAdjust="spacingAndGlyphs">Blank</text>
<line x1="399.40" y1="557.40" x2="423.50" y2="557.40" stroke="#ff0000" stroke-width="1.5"/>
<circle cx="411.45" cy="557.40" r="2.70" fill="#ff0000"/>
<text x="426.00" y="561.80" font-size="10.3" font-weight="bold" textLength="57.00" lengthAdjust="spacingAndGlyphs">0.45 mg/mL</text>
<line x1="399.40" y1="572.80" x2="423.50" y2="572.80" stroke="#0000ff" stroke-width="1.5"/>
<polygon points="411.45,569.50 414.58,574.78 408.31,574.78" fill="#0000ff"/>
<text x="426.00" y="577.20" font-size="10.3" font-weight="bold" textLength="57.00" lengthAdjust="spacingAndGlyphs">0.50 mg/mL</text>
<line x1="399.40" y1="588.40" x2="423.50" y2="588.40" stroke="#ff00ff" stroke-width="1.5"/>
<polygon points="411.45,591.70 414.58,586.42 408.31,586.42" fill="#ff00ff"/>
<text x="426.00" y="592.80" font-size="10.3" font-weight="bold" textLength="57.00" lengthAdjust="spacingAndGlyphs">0.55 mg/mL</text>
<line x1="399.40" y1="603.70" x2="423.50" y2="603.70" stroke="#008000" stroke-width="1.5"/>
<polygon points="411.45,600.40 414.75,603.70 411.45,607.00 408.15,603.70" fill="#008000"/>
<text x="426.00" y="608.10" font-size="10.3" font-weight="bold" textLength="57.00" lengthAdjust="spacingAndGlyphs">0.60 mg/mL</text>
<line x1="492.00" y1="541.00" x2="516.00" y2="541.00" stroke="#000080" stroke-width="1.5"/>
<polygon points="500.70,541.00 505.98,537.87 505.98,544.13" fill="#000080"/>
<text x="518.60" y="545.40" font-size="10.3" font-weight="bold" textLength="57.00" lengthAdjust="spacingAndGlyphs">0.65 mg/mL</text>
<line x1="492.00" y1="556.60" x2="516.00" y2="556.60" stroke="#8000ff" stroke-width="1.5"/>
<polygon points="507.30,556.60 502.02,553.47 502.02,559.74" fill="#8000ff"/>
<text x="518.60" y="561.00" font-size="10.3" font-weight="bold" textLength="57.00" lengthAdjust="spacingAndGlyphs">0.70 mg/mL</text>
<line x1="589.00" y1="539.60" x2="612.70" y2="539.60" stroke="#800080" stroke-width="1.5"/>
<circle cx="600.85" cy="539.60" r="2.70" fill="#800080"/>
<text x="615.70" y="544.00" font-size="10.3" font-weight="bold" textLength="57.00" lengthAdjust="spacingAndGlyphs">0.75 mg/mL</text>
<line x1="589.00" y1="555.20" x2="612.70" y2="555.20" stroke="#800000" stroke-width="1.5"/>
<polygon points="600.85,551.80 601.67,554.07 604.08,554.15 602.18,555.63 602.85,557.95 600.85,556.60 598.85,557.95 599.52,555.63 597.62,554.15 600.03,554.07" fill="#800000"/>
<text x="615.70" y="559.60" font-size="10.3" font-weight="bold" textLength="57.00" lengthAdjust="spacingAndGlyphs">0.80 mg/mL</text>
</svg>
</body></html>
